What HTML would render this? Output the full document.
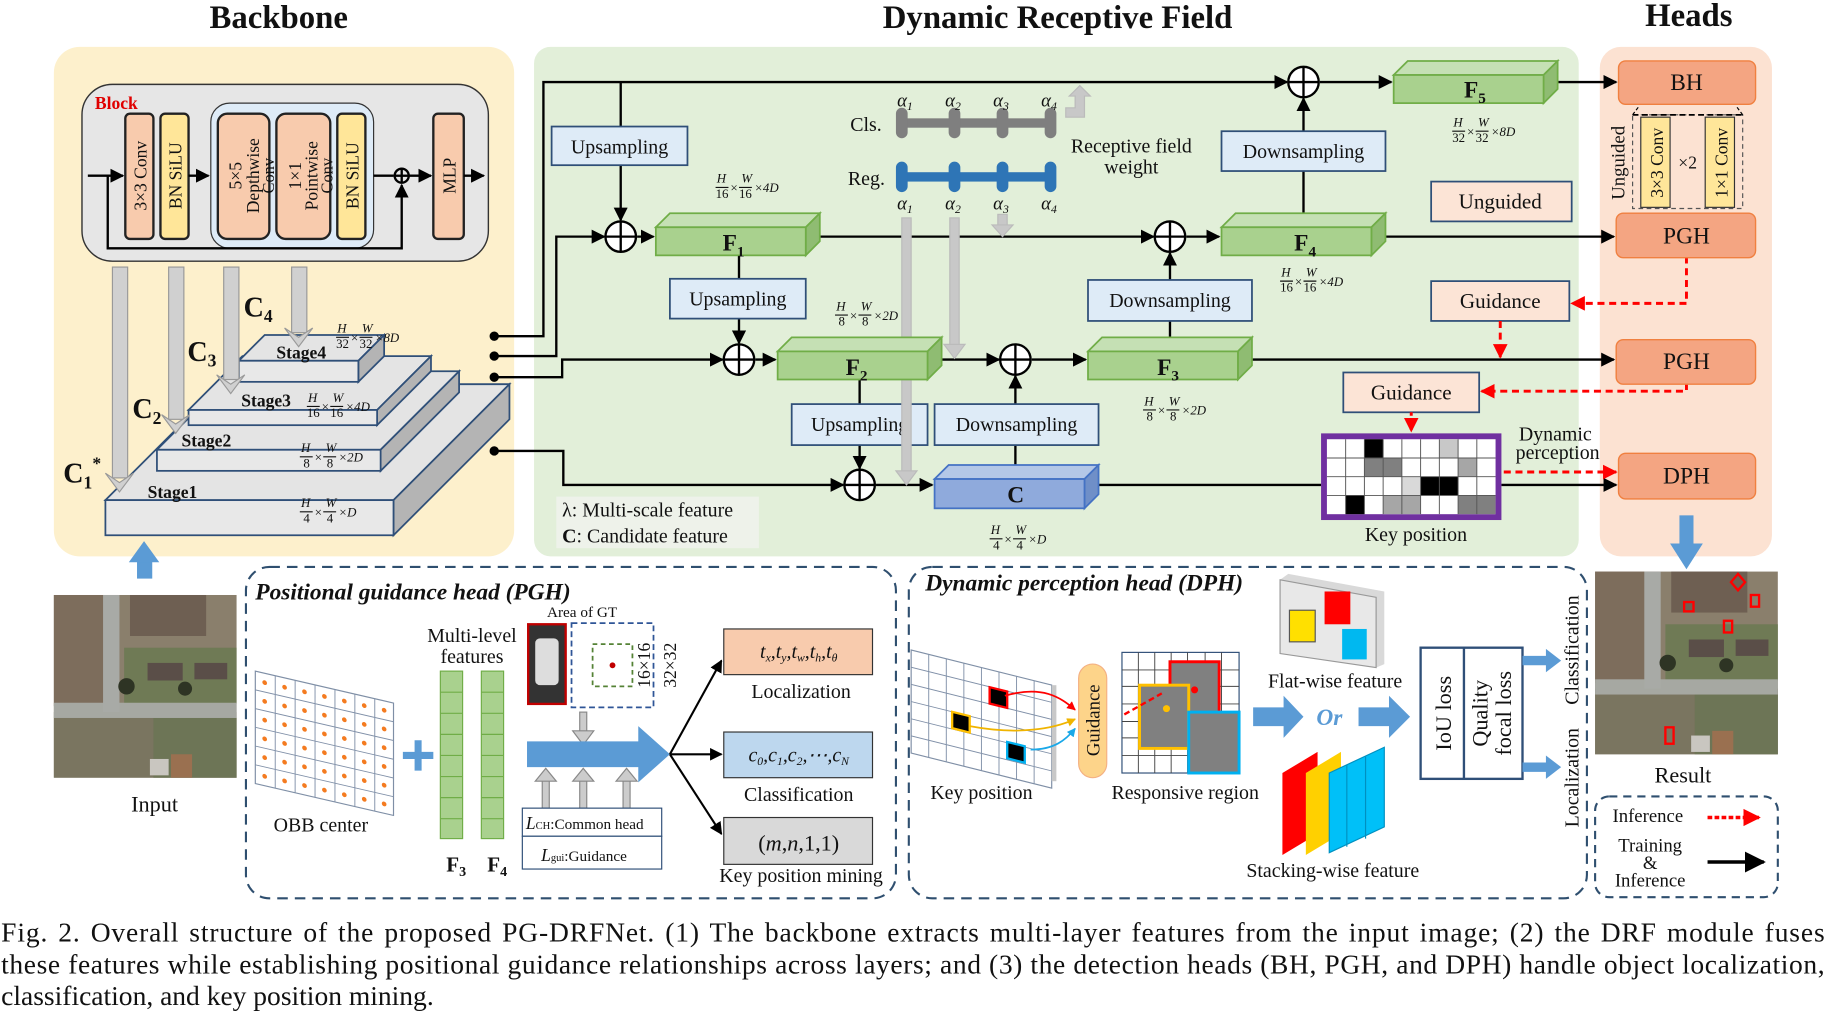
<!DOCTYPE html>
<html><head><meta charset="utf-8"><style>
html,body{margin:0;padding:0;background:#fff}
svg{display:block}
text{font-family:"Liberation Serif",serif;fill:#111}
.b{font-weight:bold}
.bx{stroke:#2f4f78;stroke-width:1.5}
</style></head><body>
<svg width="1827" height="1019" viewBox="0 0 1560 870" xmlns="http://www.w3.org/2000/svg">
<defs>
<marker id="ah" viewBox="0 0 10 10" refX="9" refY="5" markerWidth="6" markerHeight="6" orient="auto"><path d="M0,0L10,5L0,10z" fill="#000"/></marker>
<marker id="ar" viewBox="0 0 10 10" refX="9" refY="5" markerWidth="5" markerHeight="5" orient="auto"><path d="M0,0L10,5L0,10z" fill="#f00"/></marker>
<marker id="ay" viewBox="0 0 10 10" refX="9" refY="5" markerWidth="5" markerHeight="5" orient="auto"><path d="M0,0L10,5L0,10z" fill="#f0b400"/></marker>
<marker id="ac" viewBox="0 0 10 10" refX="9" refY="5" markerWidth="5" markerHeight="5" orient="auto"><path d="M0,0L10,5L0,10z" fill="#1aa8e8"/></marker>
<g id="sat">
<rect width="156" height="156" fill="#8a7f6c"/>
<rect x="0" y="0" width="55" height="95" fill="#7d6d5c"/>
<rect x="65" y="0" width="65" height="35" fill="#6e5f52"/>
<rect x="60" y="45" width="96" height="48" fill="#6f7a55"/>
<rect x="0" y="100" width="156" height="56" fill="#7a7560"/>
<rect x="85" y="105" width="71" height="51" fill="#6d7556"/>
<rect x="0" y="92" width="156" height="13" fill="#a6a8a2"/>
<rect x="42" y="0" width="14" height="100" fill="#a8aaa6"/>
<rect x="80" y="58" width="30" height="15" fill="#5a4e48"/>
<rect x="120" y="58" width="28" height="14" fill="#5a4e48"/>
<circle cx="62" cy="78" r="7" fill="#2e3424"/><circle cx="112" cy="80" r="6" fill="#2e3424"/>
<rect x="82" y="140" width="16" height="14" fill="#c9c6c0"/>
<rect x="100" y="136" width="18" height="20" fill="#9a7050"/>
</g>
</defs>

<!-- titles -->
<text x="238" y="24" font-size="28" class="b" text-anchor="middle">Backbone</text>
<text x="903" y="24" font-size="28" class="b" text-anchor="middle">Dynamic Receptive Field</text>
<text x="1442" y="22" font-size="28" class="b" text-anchor="middle">Heads</text>

<!-- panels -->
<rect x="46" y="40" width="393" height="435" rx="22" fill="#fdf0cc"/>
<rect x="456" y="40" width="892" height="435" rx="14" fill="#e2efd9"/>
<rect x="1366" y="40" width="147" height="435" rx="18" fill="#fce2d2"/>

<!-- Block -->
<rect x="70" y="72" width="347" height="151" rx="26" fill="#e6e6e6" stroke="#333" stroke-width="1.2"/>
<text x="81" y="93" font-size="15" class="b" style="fill:#e00000">Block</text>
<rect x="180" y="88" width="139" height="124" rx="16" fill="#deebf7" stroke="#333"/>
<g stroke="#222" stroke-width="2">
<rect x="107" y="97" width="24" height="107" rx="4" fill="#f8cbad"/>
<rect x="137" y="97" width="24" height="107" rx="4" fill="#ffe699"/>
<rect x="186" y="97" width="44" height="107" rx="8" fill="#f8cbad"/>
<rect x="236" y="97" width="46" height="107" rx="8" fill="#f8cbad"/>
<rect x="288" y="97" width="24" height="107" rx="4" fill="#ffe699"/>
<rect x="370" y="97" width="26" height="107" rx="4" fill="#f8cbad"/>
</g>
<g font-size="15" text-anchor="middle">
<text transform="translate(125,150) rotate(-90)">3×3 Conv</text>
<text transform="translate(155,150) rotate(-90)">BN SiLU</text>
<text transform="translate(206,150) rotate(-90)">5×5</text>
<text transform="translate(221,150) rotate(-90)">Depthwise</text>
<text transform="translate(234,150) rotate(-90)" font-size="14">Conv</text>
<text transform="translate(257,150) rotate(-90)">1×1</text>
<text transform="translate(271,150) rotate(-90)">Pointwise</text>
<text transform="translate(284,150) rotate(-90)" font-size="14">Conv</text>
<text transform="translate(306,150) rotate(-90)">BN SiLU</text>
<text transform="translate(389,150) rotate(-90)">MLP</text>
</g>
<g stroke="#000" stroke-width="2" fill="none">
<line x1="75" y1="150" x2="105" y2="150" marker-end="url(#ah)"/>
<line x1="161" y1="150" x2="178" y2="150" marker-end="url(#ah)"/>
<line x1="319" y1="150" x2="336" y2="150"/>
<circle cx="343" cy="150" r="6"/><line x1="337" y1="150" x2="349" y2="150"/><line x1="343" y1="144" x2="343" y2="156"/>
<line x1="349" y1="150" x2="368" y2="150" marker-end="url(#ah)"/>
<line x1="396" y1="150" x2="413" y2="150" marker-end="url(#ah)"/>
<polyline points="92,150 92,212 343,212 343,158" marker-end="url(#ah)"/>
</g>

<!-- stages -->
<g class="bx" fill="#e8e8e8">
<polygon points="90,427 189,328 435,328 336,427" fill="#e4e4e4"/><polygon points="336,427 435,328 435,358 336,457" fill="#b4b4b4"/><rect x="90" y="427" width="246" height="30"/>
<polygon points="134,384 201,317 392,317 325,384" fill="#e4e4e4"/><polygon points="325,384 392,317 392,335 325,402" fill="#b4b4b4"/><rect x="134" y="384" width="191" height="18"/>
<polygon points="161,350 207,304 368,304 322,350" fill="#e4e4e4"/><polygon points="322,350 368,304 368,317 322,363" fill="#b4b4b4"/><rect x="161" y="350" width="161" height="13"/>
<polygon points="204,308 226,286 328,286 306,308" fill="#e4e4e4"/><polygon points="306,308 328,286 328,304 306,326" fill="#b4b4b4"/><rect x="204" y="308" width="102" height="18"/>
</g>
<g font-size="15" class="b">
<text x="126" y="425">Stage1</text><text x="155" y="381">Stage2</text><text x="206" y="347">Stage3</text><text x="236" y="306">Stage4</text>
</g>
<g fill="#d0d0d0" stroke="#999" stroke-width="1">
<rect x="96" y="228" width="13" height="180"/><polygon points="90,404 102,420 114,404 102,412"/>
<rect x="144" y="228" width="13" height="130"/><polygon points="138,354 150,370 162,354 150,362"/>
<rect x="191" y="228" width="13" height="96"/><polygon points="185,320 197,336 209,320 197,328"/>
<rect x="249" y="228" width="13" height="56"/><polygon points="243,280 255,296 267,280 255,288"/>
</g>
<g font-size="24" class="b">
<text x="208" y="270">C<tspan font-size="15" dy="5">4</tspan></text>
<text x="160" y="308">C<tspan font-size="15" dy="5">3</tspan></text>
<text x="113" y="357">C<tspan font-size="15" dy="5">2</tspan></text>
<text x="54" y="412">C<tspan font-size="15" dy="5">1</tspan><tspan font-size="15" dy="-16">*</tspan></text>
</g>

<g font-size="11" font-style="italic" stroke="none">
<g transform="translate(287,284)"><text x="1" y="0">H</text><text x="22" y="0">W</text><text x="0" y="13" font-style="normal">32</text><text x="20" y="13" font-style="normal">32</text><text x="12" y="8">×</text><text x="33" y="8">×8D</text><path d="M0,4h11M20,4h11" stroke="#111"/></g>
<g transform="translate(262,343)"><text x="1" y="0">H</text><text x="22" y="0">W</text><text x="0" y="13" font-style="normal">16</text><text x="20" y="13" font-style="normal">16</text><text x="12" y="8">×</text><text x="33" y="8">×4D</text><path d="M0,4h11M20,4h11" stroke="#111"/></g>
<g transform="translate(256,386)"><text x="1" y="0">H</text><text x="22" y="0">W</text><text x="3" y="13" font-style="normal">8</text><text x="23" y="13" font-style="normal">8</text><text x="12" y="8">×</text><text x="33" y="8">×2D</text><path d="M0,4h11M20,4h11" stroke="#111"/></g>
<g transform="translate(256,433)"><text x="1" y="0">H</text><text x="22" y="0">W</text><text x="3" y="13" font-style="normal">4</text><text x="23" y="13" font-style="normal">4</text><text x="12" y="8">×</text><text x="33" y="8">×D</text><path d="M0,4h11M20,4h11" stroke="#111"/></g>
<g transform="translate(611,156)"><text x="1" y="0">H</text><text x="22" y="0">W</text><text x="0" y="13" font-style="normal">16</text><text x="20" y="13" font-style="normal">16</text><text x="12" y="8">×</text><text x="33" y="8">×4D</text><path d="M0,4h11M20,4h11" stroke="#111"/></g>
<g transform="translate(713,265)"><text x="1" y="0">H</text><text x="22" y="0">W</text><text x="3" y="13" font-style="normal">8</text><text x="23" y="13" font-style="normal">8</text><text x="12" y="8">×</text><text x="33" y="8">×2D</text><path d="M0,4h11M20,4h11" stroke="#111"/></g>
<g transform="translate(845,456)"><text x="1" y="0">H</text><text x="22" y="0">W</text><text x="3" y="13" font-style="normal">4</text><text x="23" y="13" font-style="normal">4</text><text x="12" y="8">×</text><text x="33" y="8">×D</text><path d="M0,4h11M20,4h11" stroke="#111"/></g>
<g transform="translate(976,346)"><text x="1" y="0">H</text><text x="22" y="0">W</text><text x="3" y="13" font-style="normal">8</text><text x="23" y="13" font-style="normal">8</text><text x="12" y="8">×</text><text x="33" y="8">×2D</text><path d="M0,4h11M20,4h11" stroke="#111"/></g>
<g transform="translate(1093,236)"><text x="1" y="0">H</text><text x="22" y="0">W</text><text x="0" y="13" font-style="normal">16</text><text x="20" y="13" font-style="normal">16</text><text x="12" y="8">×</text><text x="33" y="8">×4D</text><path d="M0,4h11M20,4h11" stroke="#111"/></g>
<g transform="translate(1240,108)"><text x="1" y="0">H</text><text x="22" y="0">W</text><text x="0" y="13" font-style="normal">32</text><text x="20" y="13" font-style="normal">32</text><text x="12" y="8">×</text><text x="33" y="8">×8D</text><path d="M0,4h11M20,4h11" stroke="#111"/></g>
</g>

<g stroke="#000" stroke-width="2" fill="none">
<circle cx="422" cy="287" r="3" fill="#000"/><circle cx="422" cy="304" r="3" fill="#000"/><circle cx="422" cy="322" r="3" fill="#000"/><circle cx="422" cy="385" r="3" fill="#000"/>
<polyline points="422,287 464,287 464,70 1099,70" marker-end="url(#ah)"/>
<polyline points="422,304 475,304 475,202 516,202" marker-end="url(#ah)"/>
<polyline points="422,322 480,322 480,307 617,307" marker-end="url(#ah)"/>
<polyline points="422,385 481,385 481,414 720,414" marker-end="url(#ah)"/>
<line x1="530" y1="70" x2="530" y2="188" marker-end="url(#ah)"/>
<line x1="544" y1="202" x2="558" y2="202" marker-end="url(#ah)"/>
<line x1="700" y1="202" x2="985" y2="202" marker-end="url(#ah)"/>
<line x1="631" y1="218" x2="631" y2="293" marker-end="url(#ah)"/>
<line x1="645" y1="307" x2="662" y2="307" marker-end="url(#ah)"/>
<line x1="804" y1="307" x2="853" y2="307" marker-end="url(#ah)"/>
<line x1="881" y1="307" x2="927" y2="307" marker-end="url(#ah)"/>
<line x1="734" y1="324" x2="734" y2="400" marker-end="url(#ah)"/>
<line x1="748" y1="414" x2="796" y2="414" marker-end="url(#ah)"/>
<line x1="867" y1="397" x2="867" y2="321" marker-end="url(#ah)"/>
<line x1="999" y1="288" x2="999" y2="216" marker-end="url(#ah)"/>
<line x1="1013" y1="202" x2="1041" y2="202" marker-end="url(#ah)"/>
<line x1="1113" y1="182" x2="1113" y2="84" marker-end="url(#ah)"/>
<line x1="1127" y1="70" x2="1188" y2="70" marker-end="url(#ah)"/>
<line x1="1330" y1="70" x2="1380" y2="70" marker-end="url(#ah)"/>
<line x1="1183" y1="202" x2="1378" y2="202" marker-end="url(#ah)"/>
<line x1="1069" y1="307" x2="1378" y2="307" marker-end="url(#ah)"/>
<line x1="938" y1="414" x2="1128" y2="414"/>
<line x1="1282" y1="414" x2="1380" y2="414" marker-end="url(#ah)"/>
<g fill="#fff">
<circle cx="530" cy="202" r="13"/><circle cx="631" cy="307" r="13"/><circle cx="734" cy="414" r="13"/><circle cx="867" cy="307" r="13"/><circle cx="999" cy="202" r="13"/><circle cx="1113" cy="70" r="13"/>
</g>
<path d="M517,202h26M530,189v26M618,307h26M631,294v26M721,414h26M734,401v26M854,307h26M867,294v26M986,202h26M999,189v26M1100,70h26M1113,57v26"/>
</g>

<g fill="#deebf7" class="bx">
<rect x="471" y="108" width="116" height="33"/><rect x="572" y="238" width="116" height="34"/><rect x="676" y="345" width="116" height="35"/>
<rect x="798" y="345" width="140" height="35"/><rect x="929" y="239" width="140" height="35"/><rect x="1043" y="112" width="140" height="34"/>
</g>
<g font-size="17" text-anchor="middle">
<text x="529" y="131">Upsampling</text><text x="630" y="261">Upsampling</text><text x="734" y="368">Upsampling</text>
<text x="868" y="368">Downsampling</text><text x="999" y="262">Downsampling</text><text x="1113" y="135">Downsampling</text>
</g>

<g fill="#c8c8c8" stroke="#bbb">
<rect x="770" y="186" width="8" height="218"/><polygon points="765,402 774,414 783,402"/>
<rect x="811" y="186" width="8" height="110"/><polygon points="806,294 815,306 824,294"/>
<rect x="852" y="183" width="8" height="10"/><polygon points="847,192 856,202 865,192"/>
<path d="M910,92h8v-10h-5l9,-9l9,9h-5v18h-16z"/>
</g>
<rect x="770" y="101" width="126" height="8" fill="#7f7f7f"/>
<rect x="770" y="147" width="126" height="8" fill="#2e75b6"/>
<g fill="#7f7f7f"><rect x="765" y="92" width="10" height="26" rx="5"/><rect x="810" y="92" width="10" height="26" rx="5"/><rect x="851" y="92" width="10" height="26" rx="5"/><rect x="892" y="92" width="10" height="26" rx="5"/></g>
<g fill="#2e75b6"><rect x="765" y="138" width="10" height="26" rx="5"/><rect x="810" y="138" width="10" height="26" rx="5"/><rect x="851" y="138" width="10" height="26" rx="5"/><rect x="892" y="138" width="10" height="26" rx="5"/></g>
<g font-size="16" font-style="italic">
<text x="766" y="91">α<tspan font-size="10" dy="3">1</tspan></text><text x="807" y="91">α<tspan font-size="10" dy="3">2</tspan></text><text x="848" y="91">α<tspan font-size="10" dy="3">3</tspan></text><text x="889" y="91">α<tspan font-size="10" dy="3">4</tspan></text>
<text x="766" y="179">α<tspan font-size="10" dy="3">1</tspan></text><text x="807" y="179">α<tspan font-size="10" dy="3">2</tspan></text><text x="848" y="179">α<tspan font-size="10" dy="3">3</tspan></text><text x="889" y="179">α<tspan font-size="10" dy="3">4</tspan></text>
</g>
<g font-size="17"><text x="726" y="112">Cls.</text><text x="724" y="158">Reg.</text>
<text x="966" y="130" text-anchor="middle">Receptive field</text><text x="966" y="148" text-anchor="middle">weight</text></g>

<g stroke="#70ad47" stroke-width="1.5">
<g><polygon points="560,194 572,182 700,182 688,194" fill="#c5e0b4"/><polygon points="688,194 700,182 700,206 688,218" fill="#8fbc72"/><rect x="560" y="194" width="128" height="24" fill="#a9d18e"/></g>
<g><polygon points="664,300 676,288 804,288 792,300" fill="#c5e0b4"/><polygon points="792,300 804,288 804,312 792,324" fill="#8fbc72"/><rect x="664" y="300" width="128" height="24" fill="#a9d18e"/></g>
<g><polygon points="929,300 941,288 1069,288 1057,300" fill="#c5e0b4"/><polygon points="1057,300 1069,288 1069,312 1057,324" fill="#8fbc72"/><rect x="929" y="300" width="128" height="24" fill="#a9d18e"/></g>
<g><polygon points="1043,194 1055,182 1183,182 1171,194" fill="#c5e0b4"/><polygon points="1171,194 1183,182 1183,206 1171,218" fill="#8fbc72"/><rect x="1043" y="194" width="128" height="24" fill="#a9d18e"/></g>
<g><polygon points="1190,64 1202,52 1330,52 1318,64" fill="#c5e0b4"/><polygon points="1318,64 1330,52 1330,76 1318,88" fill="#8fbc72"/><rect x="1190" y="64" width="128" height="24" fill="#a9d18e"/></g>
</g>
<g stroke="#4472c4" stroke-width="1.5"><polygon points="798,409 810,397 938,397 926,409" fill="#b4c7e7"/><polygon points="926,409 938,397 938,422 926,434" fill="#6f8fc8"/><rect x="798" y="409" width="128" height="25" fill="#8faadc"/></g>
<g font-size="20" class="b">
<text x="617" y="214">F<tspan font-size="13" dy="5">1</tspan></text><text x="722" y="320">F<tspan font-size="13" dy="5">2</tspan></text>
<text x="988" y="320">F<tspan font-size="13" dy="5">3</tspan></text><text x="1105" y="214">F<tspan font-size="13" dy="5">4</tspan></text>
<text x="1250" y="83">F<tspan font-size="13" dy="5">5</tspan></text><text x="860" y="429">C</text>
</g>

<rect x="475" y="424" width="173" height="44" fill="#eef2ea"/>
<text x="480" y="441" font-size="17">λ: Multi-scale feature</text>
<text x="480" y="463" font-size="17"><tspan class="b">C</tspan>: Candidate feature</text>

<g fill="#fce4d6" class="bx">
<rect x="1222" y="155" width="120" height="34"/><rect x="1222" y="240" width="118" height="34"/><rect x="1147" y="318" width="116" height="34"/>
</g>
<g font-size="18" text-anchor="middle"><text x="1281" y="178">Unguided</text><text x="1281" y="263">Guidance</text><text x="1205" y="341">Guidance</text></g>

<rect x="1128" y="370" width="154" height="74" fill="#7030a0"/>
<rect x="1133" y="375" width="144" height="64" fill="#fff"/>
<g fill="#000"><rect x="1165" y="375" width="16" height="16"/><rect x="1213" y="407" width="32" height="16"/><rect x="1149" y="423" width="16" height="16"/></g>
<g fill="#808080"><rect x="1165" y="391" width="32" height="16"/><rect x="1245" y="423" width="32" height="16"/><rect x="1197" y="423" width="16" height="16" fill="#a6a6a6"/><rect x="1181" y="423" width="16" height="16" fill="#a6a6a6"/><rect x="1229" y="375" width="16" height="16" fill="#c8c8c8"/><rect x="1245" y="391" width="16" height="16" fill="#a6a6a6"/><rect x="1197" y="407" width="16" height="16" fill="#d9d9d9"/></g>
<g stroke="#555" stroke-width="0.8"><path d="M1149,375v64M1165,375v64M1181,375v64M1197,375v64M1213,375v64M1229,375v64M1245,375v64M1261,375v64M1133,391h144M1133,407h144M1133,423h144"/></g>
<text x="1209" y="462" font-size="17" text-anchor="middle">Key position</text>
<text x="1328" y="376" font-size="17" text-anchor="middle">Dynamic</text><text x="1330" y="392" font-size="17" text-anchor="middle">perception</text>

<g stroke="#f00" stroke-width="2.5" stroke-dasharray="6,4" fill="none">
<polyline points="1440,219 1440,259 1342,259" marker-end="url(#ar)"/>
<line x1="1281" y1="274" x2="1281" y2="305" marker-end="url(#ar)"/>
<polyline points="1440,327 1440,334 1265,334" marker-end="url(#ar)"/>
<line x1="1205" y1="352" x2="1205" y2="368" marker-end="url(#ar)" stroke-dasharray="3,3"/>
<line x1="1284" y1="403" x2="1380" y2="403" marker-end="url(#ar)"/>
</g>

<g fill="#f4a582" stroke="#f08040" stroke-width="1.2">
<rect x="1382" y="52" width="117" height="37" rx="6"/><rect x="1380" y="182" width="119" height="38" rx="6"/><rect x="1380" y="290" width="119" height="38" rx="6"/><rect x="1382" y="387" width="117" height="39" rx="6"/>
</g>
<g font-size="20" text-anchor="middle"><text x="1440" y="77">BH</text><text x="1440" y="208">PGH</text><text x="1440" y="315">PGH</text><text x="1440" y="413">DPH</text></g>
<rect x="1394" y="98" width="94" height="80" fill="none" stroke="#555" stroke-dasharray="4,3"/>
<path d="M1394,98h94" stroke="#000" stroke-width="1.5" stroke-dasharray="5,3"/>
<path d="M1394,98l6,-8M1488,98l-6,-8" stroke="#000" stroke-dasharray="3,2"/>
<rect x="1401" y="100" width="25" height="77" fill="#ffe699" stroke="#333"/><rect x="1456" y="100" width="25" height="77" fill="#ffe699" stroke="#333"/>
<text transform="translate(1420,139) rotate(-90)" font-size="15" text-anchor="middle">3×3 Conv</text>
<text transform="translate(1475,139) rotate(-90)" font-size="15" text-anchor="middle">1×1 Conv</text>
<text x="1441" y="144" font-size="15" text-anchor="middle">×2</text>
<text transform="translate(1387,139) rotate(-90)" font-size="16" text-anchor="middle">Unguided</text>
<rect x="1434" y="440" width="12" height="25" fill="#5b9bd5"/><polygon points="1426,464 1440,486 1454,464" fill="#5b9bd5"/>

<rect x="117" y="474" width="13" height="20" fill="#5b9bd5"/><polygon points="110,480 123,462 136,480" fill="#5b9bd5"/>
<use href="#sat" x="46" y="508"/>
<text x="132" y="693" font-size="19" text-anchor="middle">Input</text>

<rect x="210" y="484" width="555" height="283" rx="20" fill="none" stroke="#2f4f6f" stroke-width="1.8" stroke-dasharray="9,6"/>
<text x="218" y="512" font-size="20" class="b" font-style="italic">Positional guidance head (PGH)</text>
<g transform="translate(218,573) skewY(13)">
<rect width="118" height="96" fill="#fff" stroke="#7f8fa6"/>
<path d="M17,0v96M34,0v96M51,0v96M68,0v96M85,0v96M102,0v96M0,16h118M0,32h118M0,48h118M0,64h118M0,80h118" stroke="#8090a8" stroke-width="0.8"/>
<g fill="#f47b20">
<circle cx="8" cy="8" r="2"/><circle cx="25" cy="8" r="2"/><circle cx="42" cy="8" r="2"/><circle cx="59" cy="8" r="2"/><circle cx="76" cy="8" r="2"/><circle cx="93" cy="8" r="2"/><circle cx="110" cy="8" r="2"/>
<circle cx="8" cy="24" r="2"/><circle cx="25" cy="24" r="2"/><circle cx="42" cy="24" r="2"/><circle cx="59" cy="24" r="2"/><circle cx="76" cy="24" r="2"/><circle cx="93" cy="24" r="2"/><circle cx="110" cy="24" r="2"/>
<circle cx="8" cy="40" r="2"/><circle cx="25" cy="40" r="2"/><circle cx="42" cy="40" r="2"/><circle cx="59" cy="40" r="2"/><circle cx="76" cy="40" r="2"/><circle cx="93" cy="40" r="2"/><circle cx="110" cy="40" r="2"/>
<circle cx="8" cy="56" r="2"/><circle cx="25" cy="56" r="2"/><circle cx="42" cy="56" r="2"/><circle cx="59" cy="56" r="2"/><circle cx="76" cy="56" r="2"/><circle cx="93" cy="56" r="2"/><circle cx="110" cy="56" r="2"/>
<circle cx="8" cy="72" r="2"/><circle cx="25" cy="72" r="2"/><circle cx="42" cy="72" r="2"/><circle cx="59" cy="72" r="2"/><circle cx="76" cy="72" r="2"/><circle cx="93" cy="72" r="2"/><circle cx="110" cy="72" r="2"/>
<circle cx="8" cy="88" r="2"/><circle cx="25" cy="88" r="2"/><circle cx="42" cy="88" r="2"/><circle cx="59" cy="88" r="2"/><circle cx="76" cy="88" r="2"/><circle cx="93" cy="88" r="2"/><circle cx="110" cy="88" r="2"/>
</g></g>
<text x="274" y="710" font-size="17" text-anchor="middle">OBB center</text>
<path d="M357,632v26M344,645h26" stroke="#5b9bd5" stroke-width="6"/>
<g fill="#a9d18e" stroke="#70ad47">
<rect x="376" y="573" width="19" height="143"/><rect x="411" y="573" width="19" height="143"/>
</g>
<path d="M376,591h19M376,609h19M376,627h19M376,645h19M376,663h19M376,681h19M376,699h19M411,591h19M411,609h19M411,627h19M411,645h19M411,663h19M411,681h19M411,699h19" stroke="#70ad47"/>
<text x="381" y="744" font-size="18" class="b">F<tspan font-size="12" dy="4">3</tspan></text><text x="416" y="744" font-size="18" class="b">F<tspan font-size="12" dy="4">4</tspan></text>
<text x="403" y="548" font-size="17" text-anchor="middle">Multi-level</text><text x="403" y="566" font-size="17" text-anchor="middle">features</text>
<text x="497" y="527" font-size="13" text-anchor="middle">Area of GT</text>
<rect x="451" y="533" width="32" height="68" fill="#333" stroke="#c00000" stroke-width="2"/><rect x="457" y="545" width="20" height="40" rx="4" fill="#ddd"/>
<rect x="488" y="532" width="70" height="72" fill="none" stroke="#2f5597" stroke-width="1.5" stroke-dasharray="5,3"/>
<rect x="506" y="550" width="34" height="36" fill="none" stroke="#548235" stroke-width="1.5" stroke-dasharray="4,3"/>
<circle cx="523" cy="568" r="2.5" fill="#c00000"/>
<text transform="translate(555,568) rotate(-90)" font-size="15" text-anchor="middle">16×16</text>
<text transform="translate(577,568) rotate(-90)" font-size="15" text-anchor="middle">32×32</text>
<rect x="495" y="608" width="6" height="18" fill="#ccc" stroke="#888"/><polygon points="489,624 498,636 507,624" fill="#ccc" stroke="#888"/>
<path d="M450,633h95v-13l27,24l-27,24v-13h-95z" fill="#5b9bd5"/>
<g fill="#ccc" stroke="#888"><rect x="463" y="665" width="6" height="25"/><polygon points="457,667 466,656 475,667"/><rect x="495" y="665" width="6" height="25"/><polygon points="489,667 498,656 507,667"/><rect x="532" y="665" width="6" height="25"/><polygon points="526,667 535,656 544,667"/></g>
<rect x="446" y="690" width="119" height="24" fill="#fff" stroke="#2f4f78"/><rect x="446" y="714" width="119" height="28" fill="#fff" stroke="#2f4f78"/>
<text x="449" y="708" font-size="13"><tspan font-style="italic" font-size="15">L</tspan><tspan font-size="9">CH</tspan>:Common head</text>
<text x="462" y="735" font-size="13"><tspan font-style="italic" font-size="15">L</tspan><tspan font-size="9">gui</tspan>:Guidance</text>
<g stroke="#000" stroke-width="1.8" fill="none"><line x1="572" y1="644" x2="616" y2="564" marker-end="url(#ah)"/><line x1="572" y1="644" x2="616" y2="644" marker-end="url(#ah)"/><line x1="572" y1="644" x2="616" y2="712" marker-end="url(#ah)"/></g>
<rect x="618" y="537" width="127" height="39" fill="#f8cbad" stroke="#333"/><rect x="618" y="625" width="127" height="39" fill="#bdd7ee" stroke="#333"/><rect x="618" y="698" width="127" height="40" fill="#d9d9d9" stroke="#333"/>
<text x="682" y="562" font-size="17" font-style="italic" text-anchor="middle">t<tspan font-size="10" dy="3">x</tspan><tspan dy="-3">,t</tspan><tspan font-size="10" dy="3">y</tspan><tspan dy="-3">,t</tspan><tspan font-size="10" dy="3">w</tspan><tspan dy="-3">,t</tspan><tspan font-size="10" dy="3">h</tspan><tspan dy="-3">,t</tspan><tspan font-size="10" dy="3">θ</tspan></text>
<text x="682" y="650" font-size="17" font-style="italic" text-anchor="middle">c<tspan font-size="10" dy="3">0</tspan><tspan dy="-3">,c</tspan><tspan font-size="10" dy="3">1</tspan><tspan dy="-3">,c</tspan><tspan font-size="10" dy="3">2</tspan><tspan dy="-3">,⋯,c</tspan><tspan font-size="10" dy="3">N</tspan></text>
<text x="682" y="726" font-size="19" text-anchor="middle">(<tspan font-style="italic">m</tspan>,<tspan font-style="italic">n</tspan>,1,1)</text>
<text x="684" y="596" font-size="17" text-anchor="middle">Localization</text><text x="682" y="684" font-size="17" text-anchor="middle">Classification</text><text x="684" y="753" font-size="17" text-anchor="middle">Key position mining</text>

<rect x="776" y="484" width="579" height="283" rx="20" fill="none" stroke="#2f4f6f" stroke-width="1.8" stroke-dasharray="9,6"/>
<text x="790" y="504" font-size="20" class="b" font-style="italic">Dynamic perception head (DPH)</text>
<g transform="translate(778,555) skewY(14)">
<rect width="120" height="88" fill="#fff" stroke="#7f8fa6"/>
<path d="M15,0v88M30,0v88M45,0v88M60,0v88M75,0v88M90,0v88M105,0v88M0,14.7h120M0,29.3h120M0,44h120M0,58.7h120M0,73.3h120" stroke="#8090a8" stroke-width="0.8"/>
<rect x="67" y="15" width="15" height="14" fill="#000" stroke="#f00" stroke-width="2"/>
<rect x="35" y="44" width="15" height="14" fill="#000" stroke="#ffc000" stroke-width="2"/>
<rect x="82" y="58" width="15" height="14" fill="#000" stroke="#00b0f0" stroke-width="2"/>
</g>
<rect x="898" y="585" width="4" height="82" fill="#c8c8c8"/>
<g fill="none" stroke-width="1.5"><path d="M858,594 C890,585 905,595 918,606" stroke="#f00" marker-end="url(#ar)"/><path d="M828,620 C870,628 900,622 918,614" stroke="#f0b400" marker-end="url(#ay)"/><path d="M880,640 C900,640 910,632 918,622" stroke="#1aa8e8" marker-end="url(#ac)"/></g>
<rect x="921" y="567" width="24" height="97" rx="12" fill="#fdd48a" stroke="#f4b183"/>
<text transform="translate(939,615) rotate(-90)" font-size="16" text-anchor="middle">Guidance</text>
<rect x="958" y="557" width="100" height="103" fill="#fff" stroke="#2f4f78"/>
<path d="M972,557v103M986,557v103M1000,557v103M1014,557v103M1029,557v103M1043,557v103M958,572h100M958,586h100M958,601h100M958,616h100M958,630h100M958,645h100" stroke="#444" stroke-width="0.8"/>
<rect x="999" y="565" width="42" height="60" fill="#808080" stroke="#f00" stroke-width="2.5"/>
<rect x="973" y="585" width="42" height="54" fill="#808080" stroke="#ffc000" stroke-width="2.5"/>
<rect x="1015" y="608" width="43" height="52" fill="#808080" stroke="#00b0f0" stroke-width="2.5"/>
<circle cx="1020" cy="589" r="3" fill="#f00"/><circle cx="996" cy="605" r="3" fill="#ffc000"/>
<path d="M960,610l32,-18" stroke="#f00" stroke-width="2" stroke-dasharray="5,3"/>
<text x="838" y="682" font-size="17" text-anchor="middle">Key position</text><text x="1012" y="682" font-size="17" text-anchor="middle">Responsive region</text>
<polygon points="1093,495 1100,490 1182,505 1182,567 1175,570 1093,558" fill="#d9d9d9"/><polygon points="1093,495 1175,510 1175,570 1093,558" fill="#e8e8e8" stroke="#999"/>
<rect x="1101" y="521" width="22" height="27" fill="#ffe000" stroke="#555"/><rect x="1131" y="505" width="22" height="28" fill="#f00"/><rect x="1146" y="537" width="21" height="26" fill="#00b8f0"/>
<text x="1140" y="587" font-size="17" text-anchor="middle">Flat-wise feature</text>
<path d="M1070,604h26v-10l17,18l-17,18v-10h-26z" fill="#5b9bd5"/>
<text x="1124" y="619" font-size="20" font-style="italic" class="b" style="fill:#5b9bd5">Or</text>
<path d="M1160,604h26v-10l18,18l-18,18v-10h-26z" fill="#5b9bd5"/>
<polygon points="1095,660 1125,642 1125,712 1095,730" fill="#f00"/>
<polygon points="1115,660 1145,642 1145,712 1115,730" fill="#ffd000"/>
<polygon points="1135,660 1182,638 1182,706 1135,728" fill="#00c0f8" stroke="#0090c0"/>
<path d="M1150,653v70M1166,646v70" stroke="#0090c0"/>
<text x="1138" y="749" font-size="17" text-anchor="middle">Stacking-wise feature</text>
<rect x="1213" y="553" width="87" height="112" fill="#fff" stroke="#2f4f78" stroke-width="2"/><line x1="1250" y1="553" x2="1250" y2="665" stroke="#2f4f78" stroke-width="2"/>
<text transform="translate(1239,609) rotate(-90)" font-size="19" text-anchor="middle">IoU loss</text>
<text transform="translate(1270,609) rotate(-90)" font-size="19" text-anchor="middle">Quality</text>
<text transform="translate(1290,609) rotate(-90)" font-size="19" text-anchor="middle">focal loss</text>
<path d="M1300,560h20v-6l13,10l-13,10v-6h-20z" fill="#5b9bd5"/><path d="M1300,651h20v-6l13,10l-13,10v-6h-20z" fill="#5b9bd5"/>
<text transform="translate(1348,555) rotate(-90)" font-size="17" text-anchor="middle">Classification</text>
<text transform="translate(1348,664) rotate(-90)" font-size="17" text-anchor="middle">Localization</text>

<use href="#sat" x="1362" y="488"/>
<g fill="none" stroke="#f00" stroke-width="2"><rect x="1438" y="514" width="8" height="8"/><rect x="1495" y="508" width="7" height="10"/><rect x="1472" y="530" width="7" height="10"/><rect x="1422" y="621" width="7" height="14"/><polygon points="1484,490 1490,497 1484,504 1478,497"/></g>
<text x="1437" y="668" font-size="19" text-anchor="middle">Result</text>
<rect x="1362" y="680" width="156" height="86" rx="12" fill="none" stroke="#2f4f6f" stroke-width="1.8" stroke-dasharray="7,5"/>
<text x="1407" y="702" font-size="16" text-anchor="middle">Inference</text>
<line x1="1458" y1="698" x2="1502" y2="698" stroke="#f00" stroke-width="3" stroke-dasharray="4,2" marker-end="url(#ar)"/>
<text x="1409" y="727" font-size="16" text-anchor="middle">Training</text><text x="1409" y="742" font-size="16" text-anchor="middle">&amp;</text><text x="1409" y="757" font-size="16" text-anchor="middle">Inference</text>
<line x1="1458" y1="736" x2="1506" y2="736" stroke="#000" stroke-width="3" marker-end="url(#ah)"/>

<g font-size="23.5">
<text x="1" y="804" textLength="1557" lengthAdjust="spacing" word-spacing="2">Fig. 2.    Overall structure of the proposed PG-DRFNet. (1) The backbone extracts multi-layer features from the input image; (2) the DRF module fuses</text>
<text x="1" y="831" textLength="1557" lengthAdjust="spacing">these features while establishing positional guidance relationships across layers; and (3) the detection heads (BH, PGH, and DPH) handle object localization,</text>
<text x="1" y="858">classification, and key position mining.</text>
</g>
</svg>
</body></html>
